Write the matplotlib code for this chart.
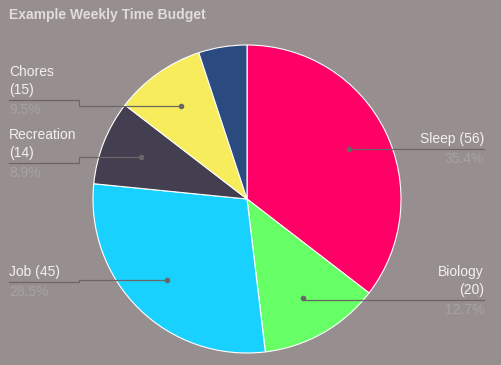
import numpy as np
from matplotlib import pyplot as plt

plt.rcParams['font.family'] = ['Liberation Sans', 'DejaVu Sans']

categories = ['Sleep', 'Biology', 'Job', 'Recreation', 'Chores', 'Other']
hours = [56, 20, 45, 14, 15, 8]
colors = ['#ff0066', '#66ff66', '#19d1ff', '#433e50', '#f6ec5c', '#2a4a80']

BG = '#978f8f'
W, H = 501, 365
CX, CY, R = 247, H - 199, 154

# label layout (pixel coords, y from top): text x, line y, alignment, wrap
label_layout = {
    'Sleep': (484, 149, 'right', False),
    'Biology': (484, 300, 'right', True),
    'Job': (9, 282, 'left', False),
    'Recreation': (9, 163, 'left', True),
    'Chores': (9, 100, 'left', True),
}


def main():
    fig = plt.figure(figsize=(W / 100, H / 100), dpi=100, facecolor=BG)
    ax = fig.add_axes([0, 0, 1, 1])
    ax.set_facecolor(BG)

    wedges, _ = ax.pie(hours, colors=colors, startangle=90, counterclock=False,
                       center=(CX, CY), radius=R, frame=True,
                       wedgeprops={'edgecolor': 'white', 'linewidth': 0.8})
    ax.set_xlim(0, W)
    ax.set_ylim(0, H)
    ax.set_aspect('equal')
    ax.axis('off')

    total = sum(hours)
    for wedge, name, val in zip(wedges, categories, hours):
        if name not in label_layout:
            continue
        tx, ly, side, wrap = label_layout[name]
        mid = np.deg2rad((wedge.theta1 + wedge.theta2) / 2)
        dx = CX + 0.74 * R * np.cos(mid)
        dy = CY + 0.74 * R * np.sin(mid)
        ly = H - ly
        kx = 79 if side == 'left' else dx
        ax.plot([tx, kx, kx, dx], [ly, ly, dy, dy], color='#6b6565', lw=0.9,
                zorder=5, solid_joinstyle='miter')
        ax.plot(dx, dy, 'o', color='#6b6565', ms=3, zorder=6)
        text = f'{name}\n({val})' if wrap else f'{name} ({val})'
        ax.text(tx, ly + 3, text, ha=side, va='bottom', color='#f4f0f0',
                fontsize=10, linespacing=1.4, zorder=7)
        ax.text(tx, ly - 3, f'{val / total * 100:.1f}%', ha=side, va='top',
                color='#a8a2a2', fontsize=10, zorder=7)

    fig.text(9 / W, 1 - 15 / H, 'Example Weekly Time Budget', ha='left',
             va='center', color='#e2dcdc', fontsize=10, fontweight='bold')

    fig.savefig('out.png', dpi=100, facecolor=BG)


if __name__ == '__main__':
    main()
